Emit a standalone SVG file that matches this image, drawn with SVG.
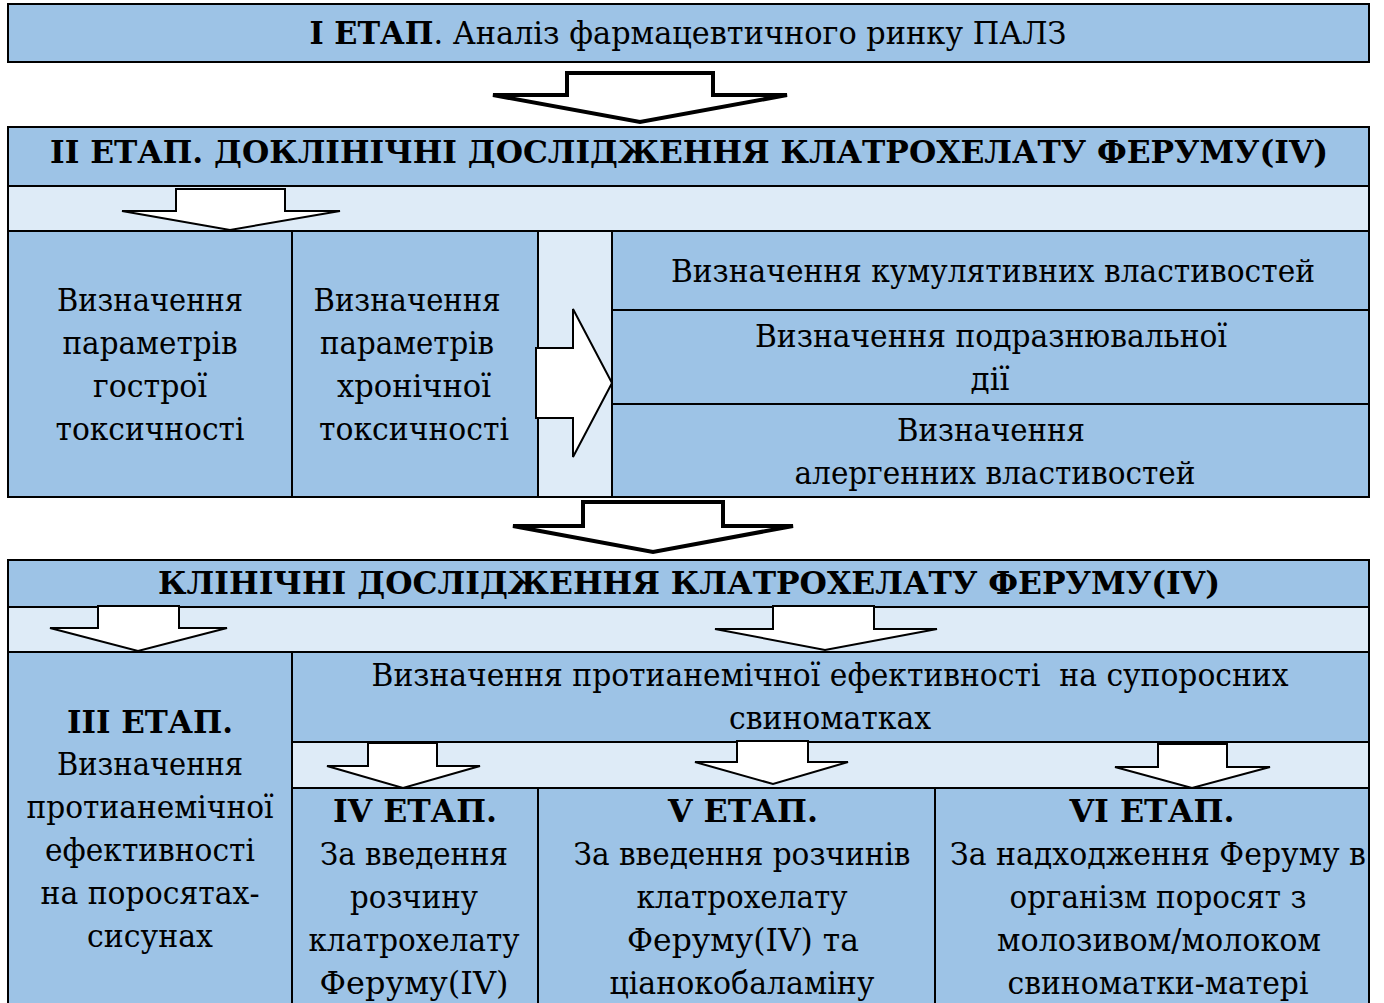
<svg xmlns="http://www.w3.org/2000/svg" width="1384" height="1003" viewBox="0 0 1384 1003">
<style>
.b{fill:#9DC3E6;stroke:#000;stroke-width:2}
.l{fill:#DEEBF7;stroke:#000;stroke-width:2}
.t{font-family:"DejaVu Serif","Liberation Serif","Times New Roman",serif;font-size:31px;fill:#000;text-anchor:middle}
.bd{font-weight:bold}
.a{fill:#fff;stroke:#000;stroke-width:2;stroke-linejoin:miter}
.A{fill:#fff;stroke:#000;stroke-width:4;stroke-linejoin:miter}
</style>
<rect width="1384" height="1003" fill="#fff"/>
<g id="stage1">
<rect class="b" x="8" y="4" width="1361" height="58"/>
<text class="t" x="688" y="44" textLength="757" lengthAdjust="spacingAndGlyphs"><tspan class="bd">I ЕТАП</tspan>. Аналіз фармацевтичного ринку ПАЛЗ</text>
</g>
<g id="stage2">
<rect class="b" x="8" y="127" width="1361" height="59"/>
<text class="t bd" x="689" y="163" textLength="1278" lengthAdjust="spacingAndGlyphs">II ЕТАП. ДОКЛІНІЧНІ ДОСЛІДЖЕННЯ КЛАТРОХЕЛАТУ ФЕРУМУ(IV)</text>
<rect class="l" x="8" y="186" width="1361" height="45"/>
<rect class="l" x="538" y="231" width="74" height="266"/>
</g>
<g id="acute">
<rect class="b" x="8" y="231" width="284" height="266"/>
<text class="t" x="150" y="311" textLength="186" lengthAdjust="spacingAndGlyphs">Визначення</text>
<text class="t" x="150" y="354" textLength="175" lengthAdjust="spacingAndGlyphs">параметрів</text>
<text class="t" x="150" y="397" textLength="114" lengthAdjust="spacingAndGlyphs">гострої</text>
<text class="t" x="150" y="440" textLength="189" lengthAdjust="spacingAndGlyphs">токсичності</text>
</g>
<g id="chronic">
<rect class="b" x="292" y="231" width="246" height="266"/>
<text class="t" x="407" y="311" textLength="187" lengthAdjust="spacingAndGlyphs">Визначення</text>
<text class="t" x="407" y="354" textLength="174" lengthAdjust="spacingAndGlyphs">параметрів</text>
<text class="t" x="414" y="397" textLength="154" lengthAdjust="spacingAndGlyphs">хронічної</text>
<text class="t" x="414" y="440" textLength="190" lengthAdjust="spacingAndGlyphs">токсичності</text>
</g>
<g id="cumulative">
<rect class="b" x="612" y="231" width="757" height="79"/>
<text class="t" x="993" y="282" textLength="644" lengthAdjust="spacingAndGlyphs">Визначення кумулятивних властивостей</text>
</g>
<g id="irritant">
<rect class="b" x="612" y="310" width="757" height="94"/>
<text class="t" x="991" y="347" textLength="472" lengthAdjust="spacingAndGlyphs">Визначення подразнювальної</text>
<text class="t" x="990" y="390" textLength="39" lengthAdjust="spacingAndGlyphs">дії</text>
</g>
<g id="allergen">
<rect class="b" x="612" y="404" width="757" height="93"/>
<text class="t" x="991" y="441" textLength="188" lengthAdjust="spacingAndGlyphs">Визначення</text>
<text class="t" x="995" y="484" textLength="401" lengthAdjust="spacingAndGlyphs">алергенних властивостей</text>
</g>
<g id="clinical">
<rect class="b" x="8" y="560" width="1361" height="47"/>
<text class="t bd" x="689" y="594" textLength="1062" lengthAdjust="spacingAndGlyphs">КЛІНІЧНІ ДОСЛІДЖЕННЯ КЛАТРОХЕЛАТУ ФЕРУМУ(IV)</text>
<rect class="l" x="8" y="607" width="1361" height="45"/>
<rect class="l" x="292" y="742" width="1077" height="46"/>
</g>
<g id="stage3">
<rect class="b" x="8" y="652" width="284" height="360"/>
<text class="t bd" x="150" y="733" textLength="166" lengthAdjust="spacingAndGlyphs">III ЕТАП.</text>
<text class="t" x="150" y="775" textLength="186" lengthAdjust="spacingAndGlyphs">Визначення</text>
<text class="t" x="150" y="818" textLength="247" lengthAdjust="spacingAndGlyphs">протианемічної</text>
<text class="t" x="150" y="861" textLength="210" lengthAdjust="spacingAndGlyphs">ефективності</text>
<text class="t" x="150" y="904" textLength="219" lengthAdjust="spacingAndGlyphs">на поросятах-</text>
<text class="t" x="150" y="947" textLength="126" lengthAdjust="spacingAndGlyphs">сисунах</text>
</g>
<g id="sows">
<rect class="b" x="292" y="652" width="1077" height="90"/>
<text class="t" x="830" y="686" textLength="917" lengthAdjust="spacingAndGlyphs" xml:space="preserve">Визначення протианемічної ефективності  на супоросних</text>
<text class="t" x="830" y="729" textLength="202" lengthAdjust="spacingAndGlyphs">свиноматках</text>
</g>
<g id="stage4">
<rect class="b" x="292" y="788" width="246" height="224"/>
<text class="t bd" x="415" y="822" textLength="164" lengthAdjust="spacingAndGlyphs">IV ЕТАП.</text>
<text class="t" x="414" y="865" textLength="188" lengthAdjust="spacingAndGlyphs">За введення</text>
<text class="t" x="414" y="908" textLength="128" lengthAdjust="spacingAndGlyphs">розчину</text>
<text class="t" x="414" y="951" textLength="211" lengthAdjust="spacingAndGlyphs">клатрохелату</text>
<text class="t" x="414" y="994" textLength="189" lengthAdjust="spacingAndGlyphs">Феруму(IV)</text>
</g>
<g id="stage5">
<rect class="b" x="538" y="788" width="397" height="224"/>
<text class="t bd" x="743" y="822" textLength="150" lengthAdjust="spacingAndGlyphs">V ЕТАП.</text>
<text class="t" x="742" y="865" textLength="337" lengthAdjust="spacingAndGlyphs">За введення розчинів</text>
<text class="t" x="742" y="908" textLength="211" lengthAdjust="spacingAndGlyphs">клатрохелату</text>
<text class="t" x="743" y="951" textLength="232" lengthAdjust="spacingAndGlyphs">Феруму(IV) та</text>
<text class="t" x="742" y="994" textLength="265" lengthAdjust="spacingAndGlyphs">ціанокобаламіну</text>
</g>
<g id="stage6">
<rect class="b" x="935" y="788" width="434" height="224"/>
<text class="t bd" x="1152" y="822" textLength="165" lengthAdjust="spacingAndGlyphs">VI ЕТАП.</text>
<text class="t" x="1158" y="865" textLength="416" lengthAdjust="spacingAndGlyphs">За надходження Феруму в</text>
<text class="t" x="1158" y="908" textLength="297" lengthAdjust="spacingAndGlyphs">організм поросят з</text>
<text class="t" x="1159" y="951" textLength="324" lengthAdjust="spacingAndGlyphs">молозивом/молоком</text>
<text class="t" x="1158" y="994" textLength="301" lengthAdjust="spacingAndGlyphs">свиноматки-матері</text>
</g>
<g id="connectors">
<polygon class="A" points="567,73 713,73 713,95 787,95 640,122 493,95 567,95"/>
<polygon class="a" points="176,189 285,189 285,211 340,211 230,230 122,211 176,211"/>
<polygon class="a" points="536,348 573,348 573,309 612,383 573,457 573,418 536,418"/>
<polygon class="A" points="583,502 723,502 723,526 793,526 653,552 513,526 583,526"/>
<polygon class="a" points="98,606 179,606 179,628 227,628 138,651 50,628 98,628"/>
<polygon class="a" points="773,606 874,606 874,629 937,629 825,650 715,629 773,629"/>
<polygon class="a" points="368,743 437,743 437,766 480,766 403,788 327,766 368,766"/>
<polygon class="a" points="737,741 808,741 808,762 848,762 773,784 695,762 737,762"/>
<polygon class="a" points="1158,744 1227,744 1227,767 1270,767 1192,788 1115,767 1158,767"/>
</g>
</svg>
